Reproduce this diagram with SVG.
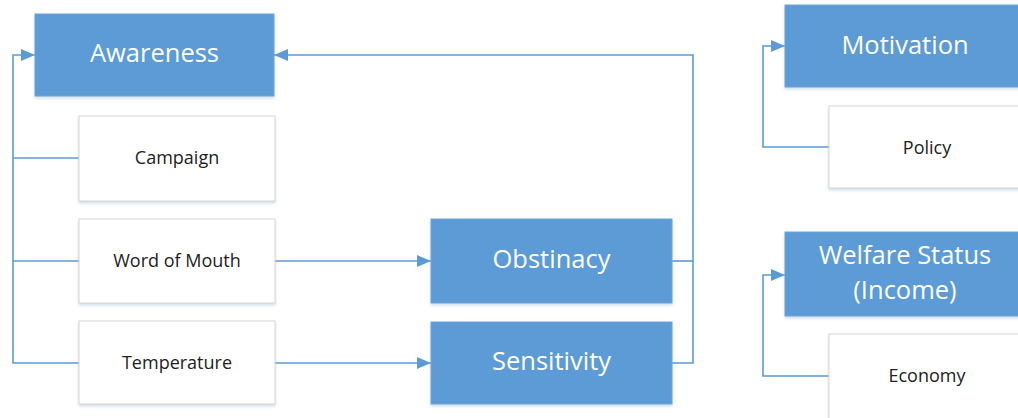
<svg xmlns="http://www.w3.org/2000/svg" width="1018" height="418" viewBox="0 0 1018 418">
  <style>
    .blue { fill: #5B9BD5; stroke: #6FA6DA; stroke-width: 1; filter: url(#shadow); }
    .white { fill: #FFFFFF; stroke: #D6D6D6; stroke-width: 1; filter: url(#shadow); }
    .big { font-family: "Open Sans", "Liberation Sans", sans-serif; font-size: 25.5px; fill: #FFFFFF; text-anchor: middle; }
    .small { font-family: "Open Sans", "Liberation Sans", sans-serif; font-size: 18px; fill: #222222; text-anchor: middle; }
    .link { fill: none; stroke: #5B9BD5; stroke-width: 1.6; }
  </style>
  <defs>
    <filter id="shadow" x="-10%" y="-10%" width="120%" height="130%">
      <feDropShadow dx="0" dy="2" stdDeviation="1.5" flood-color="#9DB8D6" flood-opacity="0.45"/>
    </filter>
    <marker id="arrow" viewBox="0 0 14 12" refX="14" refY="6" markerWidth="14" markerHeight="12" markerUnits="userSpaceOnUse" orient="auto">
      <path d="M0,0 L14,6 L0,12 z" fill="#5B9BD5"/>
    </marker>
  </defs>

  <rect width="1018" height="418" fill="#FFFFFF"/>

  <!-- connectors -->
  <g id="connectors">
    <path class="link" d="M79,158 H13"/>
    <path class="link" d="M79,261 H13"/>
    <path class="link" d="M79,363 H13 V55 H35" marker-end="url(#arrow)"/>
    <path class="link" d="M275,261 H431" marker-end="url(#arrow)"/>
    <path class="link" d="M275,363 H431" marker-end="url(#arrow)"/>
    <path class="link" d="M672,261 H693"/>
    <path class="link" d="M672,363 H693 V55 H274" marker-end="url(#arrow)"/>
    <path class="link" d="M829,147 H763 V46 H785" marker-end="url(#arrow)"/>
    <path class="link" d="M829,376 H763 V275 H785" marker-end="url(#arrow)"/>
  </g>

  <!-- left cluster -->
  <g id="awareness">
    <rect class="blue" x="35" y="14" width="239" height="82"/>
    <text class="big" x="154.5" y="62">Awareness</text>
  </g>
  <g id="campaign">
    <rect class="white" x="79" y="116" width="196" height="85"/>
    <text class="small" x="177" y="164">Campaign</text>
  </g>
  <g id="word-of-mouth">
    <rect class="white" x="79" y="219" width="196" height="84"/>
    <text class="small" x="177" y="267">Word of Mouth</text>
  </g>
  <g id="temperature">
    <rect class="white" x="79" y="321" width="196" height="83"/>
    <text class="small" x="177" y="369">Temperature</text>
  </g>
  <g id="obstinacy">
    <rect class="blue" x="431" y="219" width="241" height="84"/>
    <text class="big" x="551.5" y="268">Obstinacy</text>
  </g>
  <g id="sensitivity">
    <rect class="blue" x="431" y="322" width="241" height="82"/>
    <text class="big" x="551.5" y="370">Sensitivity</text>
  </g>

  <!-- right cluster -->
  <g id="motivation">
    <rect class="blue" x="785" y="5" width="240" height="82"/>
    <text class="big" x="905" y="54">Motivation</text>
  </g>
  <g id="policy">
    <rect class="white" x="829" y="106" width="196" height="82"/>
    <text class="small" x="927" y="154">Policy</text>
  </g>
  <g id="welfare-status">
    <rect class="blue" x="785" y="232" width="240" height="84"/>
    <text class="big" x="905" y="264">Welfare Status</text>
    <text class="big" x="905" y="299">(Income)</text>
  </g>
  <g id="economy">
    <rect class="white" x="829" y="334" width="196" height="90"/>
    <text class="small" x="927" y="382">Economy</text>
  </g>
</svg>
